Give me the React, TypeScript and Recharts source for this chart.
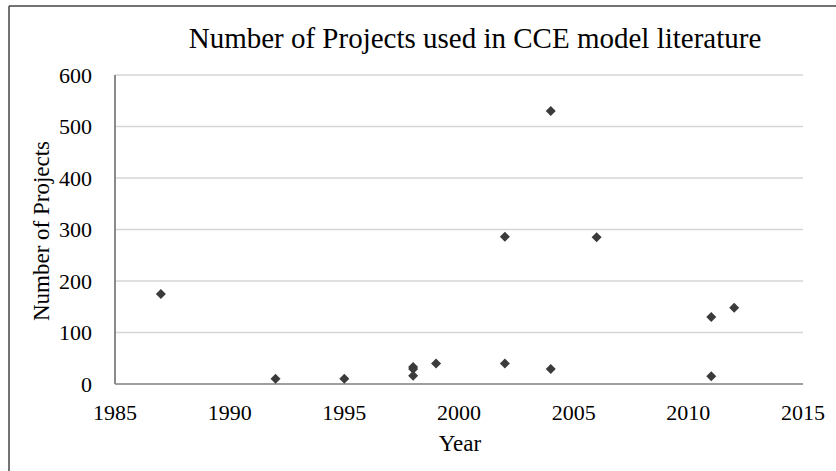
import { CartesianGrid, Scatter, ScatterChart, XAxis, YAxis } from "recharts";

const W = 836;
const H = 471;

// one entry per study: publication year and number of projects
const years = [1987, 1992, 1995, 1998, 1998, 1998, 1999, 2002, 2002, 2004, 2004, 2006, 2011, 2011, 2012];
const projects = [175, 10, 10, 33, 29, 16, 40, 286, 40, 530, 29, 285, 130, 15, 148];

const xTicks = [1985, 1990, 1995, 2000, 2005, 2010, 2015];
const yTicks = [0, 100, 200, 300, 400, 500, 600];

const points = years.map((year, i) => ({ year, projects: projects[i] }));

const FONT = '"Liberation Serif", "DejaVu Serif", serif';
const MARKER = "#3b3b3b";

function Diamond(props: any) {
  const { cx, cy } = props;
  if (cx == null || cy == null) return null;
  const r = 5;
  return (
    <path
      d={`M${cx},${cy - r}L${cx + r},${cy}L${cx},${cy + r}L${cx - r},${cy}Z`}
      fill={MARKER}
    />
  );
}

export default function App() {
  return (
    <div style={{ position: "absolute", left: 0, top: 0, width: W, height: H, background: "#fff" }}>
      <ScatterChart
        width={W}
        height={H}
        margin={{ top: 75, right: 33, bottom: 0, left: 0 }}
      >
        <CartesianGrid horizontal vertical={false} stroke="#d6d6d6" strokeWidth={1.5} />
        <XAxis
          type="number"
          dataKey="year"
          domain={[1985, 2015]}
          ticks={xTicks}
          height={87}
          tickSize={0}
          tickMargin={20}
          axisLine={{ stroke: "#8a8a8a", strokeWidth: 1.5 }}
          tick={{ fill: "#000", fontSize: 22, fontFamily: FONT }}
          allowDataOverflow
        />
        <YAxis
          type="number"
          dataKey="projects"
          domain={[0, 600]}
          ticks={yTicks}
          width={115}
          tickSize={0}
          tickMargin={23}
          axisLine={{ stroke: "#8a8a8a", strokeWidth: 2 }}
          tick={{ fill: "#000", fontSize: 22, fontFamily: FONT }}
        />
        <Scatter data={points} shape={Diamond} isAnimationActive={false} />
      </ScatterChart>
      <svg
        width={W}
        height={H}
        style={{ position: "absolute", left: 0, top: 0, pointerEvents: "none" }}
      >
        <line x1={9} y1={6} x2={W} y2={6} stroke="#444" strokeWidth={1.5} />
        <line x1={9} y1={6} x2={9} y2={H} stroke="#444" strokeWidth={1.5} />
        <text x={475} y={48} textAnchor="middle" fontFamily={FONT} fontSize={29} fill="#000">
          Number of Projects used in CCE model literature
        </text>
        <text x={460} y={451} textAnchor="middle" fontFamily={FONT} fontSize={23} fill="#000">
          Year
        </text>
        <text
          x={0}
          y={0}
          transform="translate(49,231) rotate(-90)"
          textAnchor="middle"
          fontFamily={FONT}
          fontSize={23}
          fill="#000"
        >
          Number of Projects
        </text>
      </svg>
    </div>
  );
}
